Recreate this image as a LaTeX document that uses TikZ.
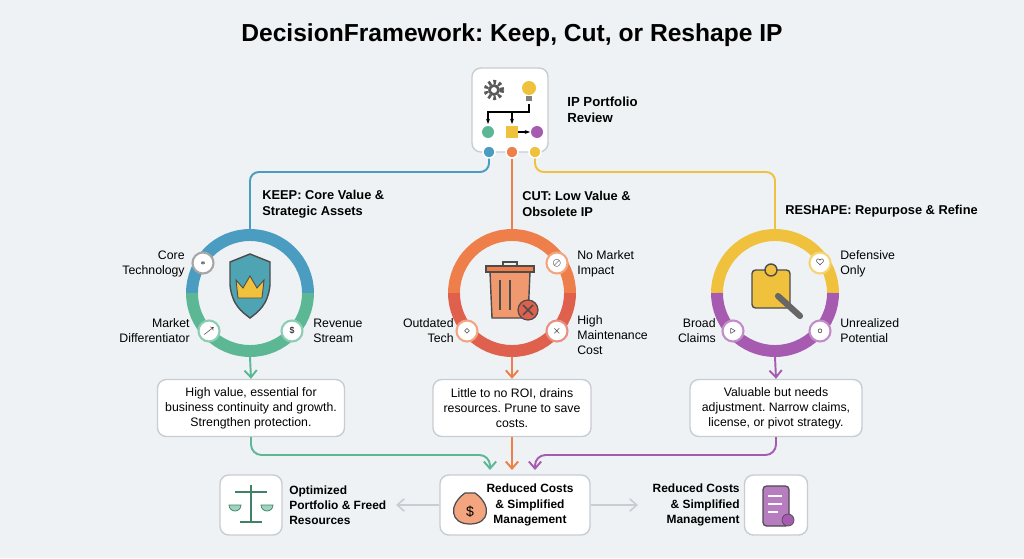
\documentclass[tikz,border=0pt]{standalone}
\usepackage{fontspec}
\setmainfont{Liberation Sans}
\frenchspacing
\usetikzlibrary{positioning,arrows.meta}
\definecolor{bg}{HTML}{EEF2F4}
\definecolor{kblue}{HTML}{4A9CC0}
\definecolor{kgreen}{HTML}{5CB894}
\definecolor{corange}{HTML}{EE7F4A}
\definecolor{cred}{HTML}{E0604E}
\definecolor{ryellow}{HTML}{EFC13C}
\definecolor{rpurple}{HTML}{A65BB0}
\definecolor{edge}{HTML}{C8CDD2}
\tikzset{
  box/.style={draw=edge,fill=white,rounded corners=5pt,line width=0.8pt},
  lbl/.style={font=\fontsize{7}{8.5}\selectfont,align=left,anchor=west,inner sep=0pt},
  rlbl/.style={font=\fontsize{7}{8.5}\selectfont,align=right,anchor=east,inner sep=0pt},
  head/.style={font=\bfseries\fontsize{7.3}{9}\selectfont,align=left,anchor=west,inner sep=0pt},
  note/.style={box,font=\fontsize{7}{8.5}\selectfont,align=center,inner sep=2pt},
  ring/.style={circle,minimum size=2.32cm,inner sep=0pt,outer sep=3.4pt},
  dot/.style={circle,fill=#1,draw=white,line width=0.8pt,minimum size=0.24cm,inner sep=0pt},
  mini/.style={circle,fill=white,draw=#1!70,line width=1.2pt,minimum size=0.42cm,inner sep=0pt},
  flow/.style={line width=1.1pt,-{Straight Barb[length=4pt,width=7pt]}},
}
\begin{document}
\begin{tikzpicture}[x=0.02cm,y=-0.02cm]
  \fill[bg](0,0)rectangle(1024,558);
  \node[font=\bfseries\fontsize{14}{16}\selectfont] (title) at (512,35) {DecisionFramework: Keep, Cut, or Reshape IP};

  % review box
  \node[box,minimum width=1.52cm,minimum height=1.68cm] (review) at (510,110) {};
  \node[head,font=\bfseries\fontsize{7.5}{9}\selectfont] (rtxt) at (567,110) {IP Portfolio\\Review};
  \draw[gray!70!black,line width=2.5pt,dash pattern=on 1.5pt off 1.5pt] (494,90) circle (8);
  \draw[gray!70!black,line width=1.5pt] (494,90) circle (4.5);
  \fill[ryellow] (529,88) circle (7); \fill[gray] (526,96) rectangle (532,101);
  \fill[kgreen] (488,132) circle (6); \fill[ryellow] (506,126) rectangle (518,138);
  \fill[rpurple] (537,132) circle (6);
  \draw[-{Stealth[length=3pt]},line width=0.6pt] (529,104)--(529,112)--(488,112)--(488,124);
  \draw[-{Stealth[length=3pt]},line width=0.6pt] (512,112)--(512,124);
  \draw[-{Stealth[length=3pt]},line width=0.6pt] (518,132)--(530,132);
  \node[dot=kblue] (dk) at (489,152) {};
  \node[dot=corange] (dc) at (512,152) {};
  \node[dot=ryellow] (dr) at (535,152) {};

  % rings
  \node[ring] (keep) at (250,293) {};
  \node[ring] (cut) at (512,293) {};
  \node[ring] (reshape) at (775,293) {};
  \draw[kblue,line width=6.8pt] ([xshift=-58*0.02cm]keep.center) arc (180:360:58);
  \draw[kgreen,line width=6.8pt] ([xshift=58*0.02cm]keep.center) arc (0:180:58);
  \draw[corange,line width=6.8pt] ([xshift=-58*0.02cm]cut.center) arc (180:360:58);
  \draw[cred,line width=6.8pt] ([xshift=58*0.02cm]cut.center) arc (0:180:58);
  \draw[ryellow,line width=6.8pt] ([xshift=-58*0.02cm]reshape.center) arc (180:360:58);
  \draw[rpurple,line width=6.8pt] ([xshift=58*0.02cm]reshape.center) arc (0:180:58);

  % branches
  \draw[kblue,line width=1.1pt,rounded corners=5pt] (dk)--(489,172)-|(keep.north);
  \draw[corange,line width=1.1pt] (dc)--(cut.north);
  \draw[ryellow,line width=1.1pt,rounded corners=5pt] (dr)--(535,172)-|(reshape.north);
  \node[head] (hk) at (262,204) {KEEP: Core Value \&\\Strategic Assets};
  \node[head] (hc) at (522,204) {CUT: Low Value \&\\Obsolete IP};
  \node[head] (hr) at (785,211) {RESHAPE: Repurpose \& Refine};

  % center icons
  \filldraw[fill=kblue!70!kgreen,draw=black!70,line width=0.8pt] (230,262)--(250,254)--(270,262)--(270,285) .. controls (268,305) and (258,312) .. (250,318) .. controls (242,312) and (232,305) .. (230,285)--cycle;
  \filldraw[fill=ryellow,draw=black!70,line width=0.5pt] (238,298)--(236,280)--(243,288)--(250,276)--(257,288)--(264,280)--(262,298)--cycle;
  \filldraw[fill=corange!80,draw=black!70,line width=0.8pt] (490,272)--(492,318)--(528,318)--(530,272)--cycle;
  \filldraw[fill=corange,draw=black!70,line width=0.8pt] (486,266) rectangle (534,272);
  \draw[black!70,line width=0.7pt] (503,266)--(503,262)--(517,262)--(517,266) (500,280)--(500,310) (510,280)--(510,310);
  \filldraw[fill=cred,draw=black!70,line width=0.7pt] (528,310) circle (10);
  \draw[black!70,line width=0.9pt] (523,305)--(533,315) (533,305)--(523,315);
  \filldraw[fill=ryellow,draw=black!70,line width=0.8pt,rounded corners=2pt] (752,270) rectangle (790,308);
  \filldraw[fill=ryellow,draw=black!70,line width=0.8pt] (771,270) circle (6);
  \draw[gray!80!black,line width=3.5pt,line cap=round] (778,296)--(800,316);

  % satellites
  \node[mini=gray] (s1) at (203,263) {\tiny$\ast$};
  \node[mini=kgreen] (s2) at (209,331) {\tiny$\nearrow$};
  \node[mini=kgreen] (s3) at (292,331) {\tiny\$};
  \node[mini=corange] (s4) at (557,263) {\tiny$\oslash$};
  \node[mini=corange] (s5) at (467,331) {\tiny$\diamond$};
  \node[mini=cred] (s6) at (557,331) {\tiny$\times$};
  \node[mini=ryellow] (s7) at (820,263) {\tiny$\heartsuit$};
  \node[mini=rpurple] (s8) at (733,331) {\tiny$\triangleright$};
  \node[mini=rpurple] (s9) at (820,331) {\tiny$\circ$};
  \node[rlbl] (t1) at (185,264) {Core\\Technology};
  \node[rlbl] (t2) at (190,331) {Market\\Differentiator};
  \node[lbl] (t3) at (313,331) {Revenue\\Stream};
  \node[lbl] (t4) at (577,264) {No Market\\Impact};
  \node[rlbl] (t5) at (454,331) {Outdated\\Tech};
  \node[lbl] (t6) at (577,335) {High\\Maintenance\\Cost};
  \node[lbl] (t7) at (840,264) {Defensive\\Only};
  \node[rlbl] (t8) at (716,331) {Broad\\Claims};
  \node[lbl] (t9) at (840,331) {Unrealized\\Potential};

  % notes
  \node[note,minimum width=3.74cm,minimum height=1.14cm] (nk) at (251,408) {High value, essential for\\business continuity and growth.\\Strengthen protection.};
  \node[note,minimum width=3.16cm,minimum height=1.14cm] (nc) at (512,408) {Little to no ROI, drains\\resources. Prune to save\\costs.};
  \node[note,minimum width=3.44cm,minimum height=1.14cm] (nr) at (776,408) {Valuable but needs\\adjustment. Narrow claims,\\license, or pivot strategy.};
  \draw[flow,kgreen] (keep.south)--(nk.north);
  \draw[flow,corange] (cut.south)--(nc.north);
  \draw[flow,rpurple] (reshape.south)--(nr.north);

  % outcomes
  \node[box,minimum width=1.24cm,minimum height=1.2cm] (ob) at (251,505) {};
  \node[box,minimum width=3.0cm,minimum height=1.2cm] (mid) at (515,505) {};
  \node[box,minimum width=1.26cm,minimum height=1.2cm] (pb) at (776,505) {};
  \node[head,font=\bfseries\fontsize{6.8}{8.6}\selectfont] (ot) at (289,505) {Optimized\\Portfolio \& Freed\\Resources};
  \node[head,font=\bfseries\fontsize{6.8}{8.6}\selectfont,align=center,anchor=center] (mt) at (530,505) {Reduced Costs\\\& Simplified\\Management};
  \node[head,font=\bfseries\fontsize{6.8}{8.6}\selectfont,align=right,anchor=east] (pt) at (740,505) {Reduced Costs\\\& Simplified\\Management};
  \coordinate (la) at (396,505);
  \coordinate (ra) at (638,505);
  \draw[flow,kgreen,rounded corners=6pt] (nk.south)--(251,455)-|(490,470);
  \draw[flow,corange] (nc.south)--(512,470);
  \draw[flow,rpurple,rounded corners=6pt] (nr.south)--(776,455)-|(535,470);
  \draw[flow,edge,line width=0.9pt] (mid.west)--(la);
  \draw[flow,edge,line width=0.9pt] (mid.east)--(ra);

  % outcome icons
  \draw[kgreen!70!black,line width=1.2pt] (251,485)--(251,522) (235,492)--(267,492) (240,522)--(262,522);
  \filldraw[fill=kgreen!60,draw=kgreen!70!black] (229,505) arc (180:0:6)--cycle (261,505) arc (180:0:6)--cycle;
  \filldraw[fill=corange!70,draw=black!70,line width=0.7pt] (465,493)--(475,493) .. controls (492,505) and (490,524) .. (470,524) .. controls (450,524) and (448,505) .. (465,493)--cycle;
  \node[font=\fontsize{8}{8}\selectfont] (dl) at (470,512) {\$};
  \filldraw[fill=rpurple!80,draw=black!70,line width=0.7pt,rounded corners=2pt] (763,486) rectangle (789,526);
  \draw[white,line width=0.8pt] (768,496)--(782,496) (768,504)--(782,504) (768,512)--(778,512);
  \filldraw[fill=rpurple,draw=black!70] (788,520) circle (6);
\end{tikzpicture}
\end{document}
